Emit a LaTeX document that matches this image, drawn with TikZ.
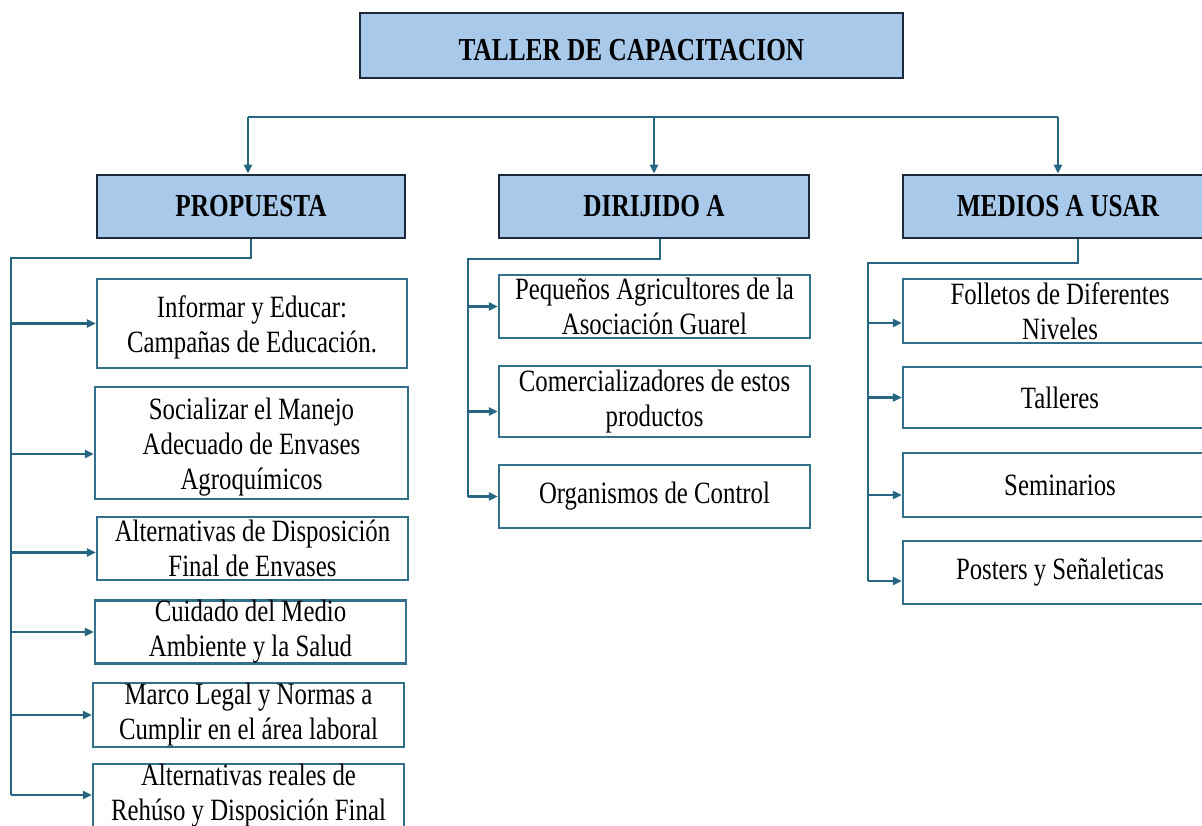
\documentclass[tikz,border=0pt]{standalone}
\usepackage{fontspec}
\setmainfont{Liberation Serif}
\newfontfamily\itemfamily[FakeStretch=0.80]{Liberation Serif}
\newfontfamily\headfamily[FakeStretch=0.79]{Liberation Serif}
\usetikzlibrary{arrows.meta}
\definecolor{lineteal}{RGB}{38,102,130}
\definecolor{boxteal}{RGB}{50,112,140}
\definecolor{headfill}{RGB}{168,201,234}
\definecolor{headdraw}{RGB}{28,42,58}
\newcommand{\lowered}[2]{\raisebox{-#1}[\height][\depth]{\begin{tabular}{@{}c@{}}#2\end{tabular}}}
\tikzset{
  headbox/.style={rectangle, draw=headdraw, line width=2.6pt, fill=headfill, inner sep=0pt,
    font=\headfamily\bfseries\fontsize{32}{38}\selectfont, text=black},
  itembox/.style={rectangle, draw=boxteal, line width=2.3pt, fill=white, inner sep=0pt,
    align=center, font=\itemfamily\fontsize{31}{35}\selectfont, text=black},
  conn/.style={draw=lineteal, line width=2.5pt},
  arr/.style={conn, -{Triangle[length=9pt,width=8pt]}},
}
\begin{document}
\begin{tikzpicture}[x=1pt,y=-1pt]
\useasboundingbox (0,0) rectangle (1202,826);
\clip (0,0) rectangle (1202,826);
\fill[white] (0,0) rectangle (1202,826);

% top
\node[headbox, minimum width=543pt, minimum height=65pt] (top) at (631.5,45.5) {\raisebox{-5pt}[\height][\depth]{TALLER DE CAPACITACION}};
\node[headbox, minimum width=308pt, minimum height=63pt] (prop) at (251,206.5) {PROPUESTA};
\node[headbox, minimum width=310pt, minimum height=63pt] (dir) at (654,206.5) {DIRIJIDO A};
\node[headbox, minimum width=310pt, minimum height=63pt] (med) at (1058,206.5) {MEDIOS A USAR};

\coordinate (hl) at (248,117);
\coordinate (hm) at (654,117);
\coordinate (hr) at (1058,117);
\draw[conn] (hl) -- (hr);
\draw[arr] (hl) -- (hl |- prop.north);
\draw[arr] (hm) -- (dir.north);
\draw[arr] (hr) -- (med.north);

% left column
\node[itembox, minimum width=310pt, minimum height=89pt] (l1) at (252,323.5) {\lowered{5pt}{Informar y Educar:\\Campañas de Educación.}};
\node[itembox, minimum width=313pt, minimum height=112pt] (l2) at (251.5,443) {\lowered{4pt}{Socializar el Manejo\\Adecuado de Envases\\Agroquímicos}};
\node[itembox, minimum width=311pt, minimum height=63pt] (l3) at (252.5,548.5) {Alternativas de Disposición\\Final de Envases};
\node[itembox, minimum width=311pt, minimum height=62pt] (l4) at (250.5,632) {Cuidado del Medio\\Ambiente y la Salud};
\node[itembox, minimum width=311pt, minimum height=64pt] (l5) at (248.5,715) {Marco Legal y Normas a\\Cumplir en el área laboral};
\node[itembox, minimum width=311pt, minimum height=64pt] (l6) at (248.5,796) {Alternativas reales de\\Rehúso y Disposición Final};

\coordinate (lt) at (11,258);
\coordinate (lb) at (11,795);
\draw[conn] (prop.south) |- (lt) -- (lb);
\draw[arr] (lt |- l1.west) -- (l1.west);
\draw[arr] ([yshift=-11pt]lt |- l2.west) -- ([yshift=-11pt]l2.west);
\draw[arr] ([yshift=-4pt]lt |- l3.west) -- ([yshift=-4pt]l3.west);
\draw[arr] (lt |- l4.west) -- (l4.west);
\draw[arr] (lt |- l5.west) -- (l5.west);
\draw[arr] (lb) -- (lb -| l6.west);

% middle column
\node[itembox, minimum width=311pt, minimum height=63pt] (m1) at (654.5,306.5) {Pequeños Agricultores de la\\Asociación Guarel};
\node[itembox, minimum width=311pt, minimum height=71pt] (m2) at (654.5,401.5) {Comercializadores de estos\\productos};
\node[itembox, minimum width=311pt, minimum height=63pt] (m3) at (654.5,496.5) {Organismos de Control};

\coordinate (mt) at (468,259);
\coordinate (mb) at (468,496.5);
\draw[conn] ([xshift=6pt]dir.south) |- (mt) -- (mb);
\draw[arr] (mt |- m1.west) -- (m1.west);
\draw[arr] ([yshift=-10pt]mt |- m2.west) -- ([yshift=-10pt]m2.west);
\draw[arr] (mb) -- (m3.west);

% right column
\node[itembox, minimum width=314pt, minimum height=64pt] (r1) at (1060,311) {Folletos de Diferentes\\Niveles};
\node[itembox, minimum width=314pt, minimum height=61pt] (r2) at (1060,397.5) {Talleres};
\node[itembox, minimum width=314pt, minimum height=64pt] (r3) at (1060,485) {Seminarios};
\node[itembox, minimum width=314pt, minimum height=63pt] (r4) at (1060,572.5) {Posters y Señaleticas};

\coordinate (rt) at (868,263);
\coordinate (rb) at (868,581);
\draw[conn] ([xshift=20pt]med.south) |- (rt) -- (rb);
\draw[arr] ([yshift=-12pt]rt |- r1.west) -- ([yshift=-12pt]r1.west);
\draw[arr] (rt |- r2.west) -- (r2.west);
\draw[arr] ([yshift=-10pt]rt |- r3.west) -- ([yshift=-10pt]r3.west);
\draw[arr] (rb) -- (rb -| r4.west);
\end{tikzpicture}
\end{document}
